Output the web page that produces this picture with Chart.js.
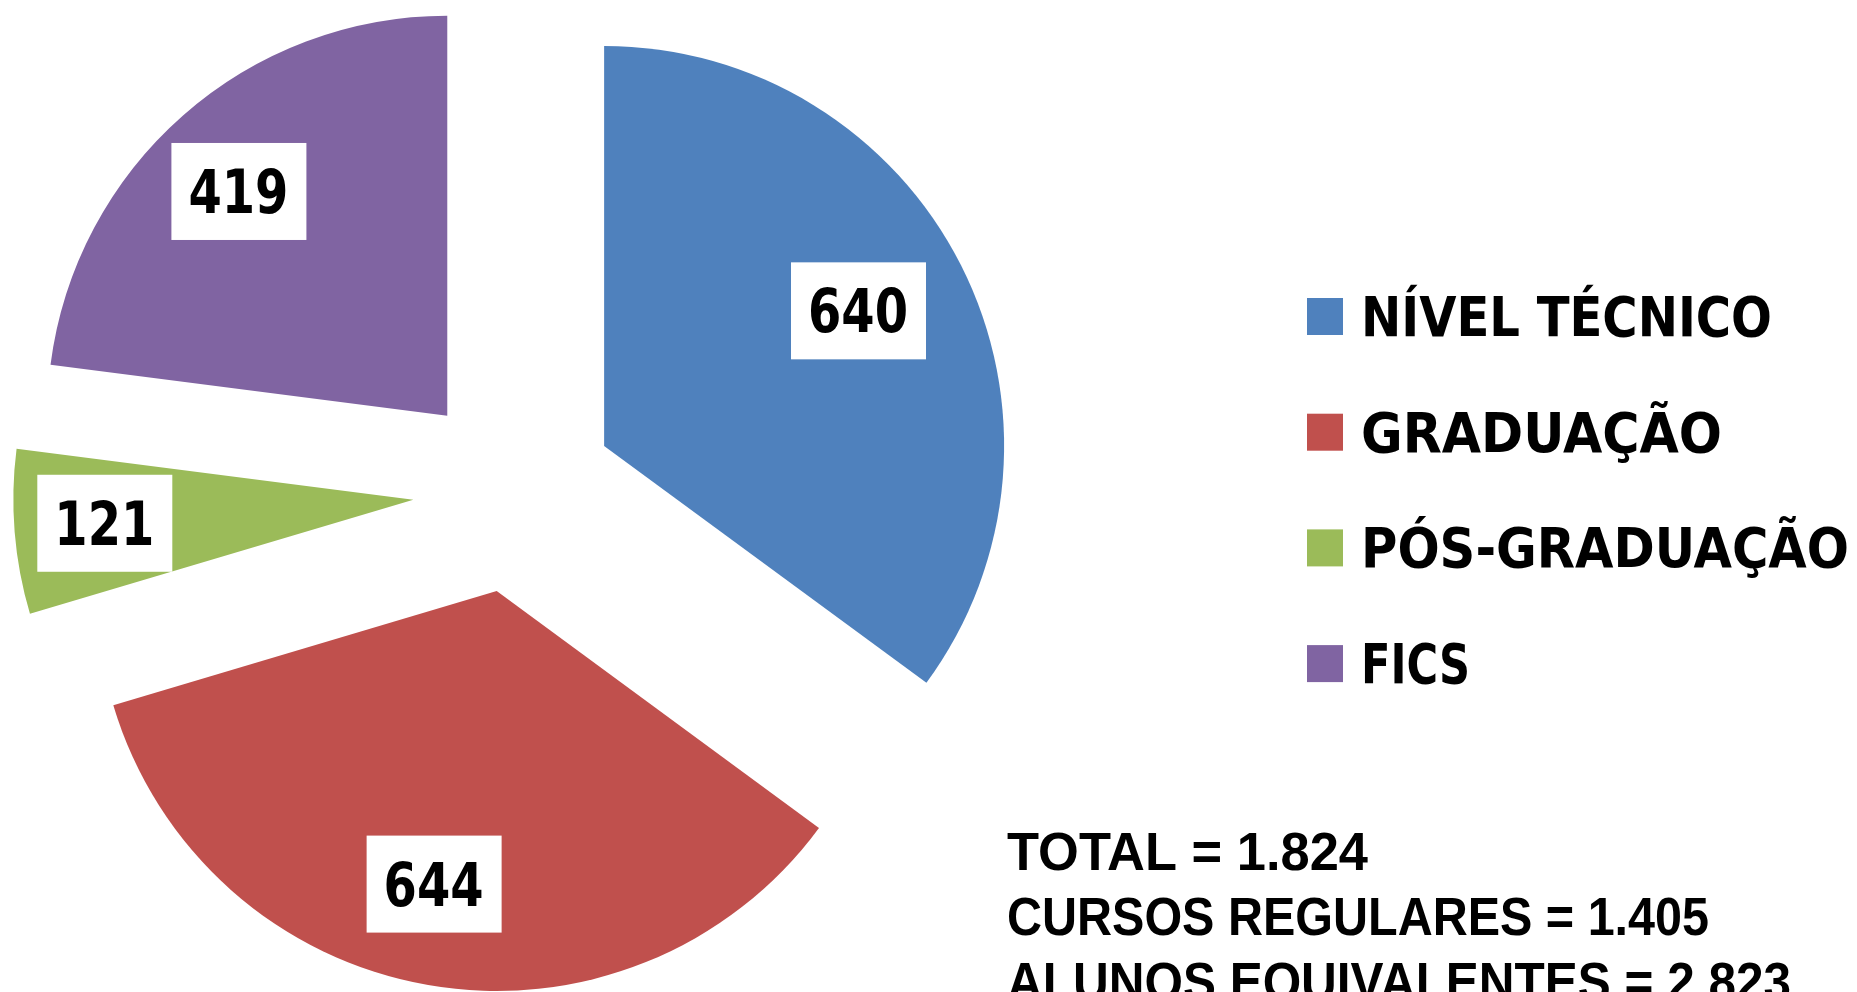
<!DOCTYPE html>
<html>
<head>
<meta charset="utf-8">
<script src="https://cdn.jsdelivr.net/npm/chart.js@4.4.0/dist/chart.umd.min.js"></script>
<style>
    html, body { margin: 0; padding: 0; background: #fff; overflow: hidden; }
    #wrap { width: 1857px; height: 992px; }
</style>
</head>
<body>
<div id="wrap"><canvas id="alunosChart" width="1857" height="992"></canvas></div>
<script>
// =========================
// Dados
// =========================
const categories = ['NÍVEL TÉCNICO', 'GRADUAÇÃO', 'PÓS-GRADUAÇÃO', 'FICS'];
const alunos = [640, 644, 121, 419];
const sliceColors = ['#4F81BD', '#C0504D', '#9BBB59', '#8064A2'];
const totalLines = ['TOTAL = 1.824', 'CURSOS REGULARES = 1.405', 'ALUNOS EQUIVALENTES = 2.823'];

const PIE_RADIUS = 400;
const EXPLODE = 404;   // chart.js v4 moves a slice by offset / 4

// draw text squeezed/stretched to a given width
function drawFitted(ctx, text, x, y, width, font, align) {
    ctx.save();
    ctx.font = font;
    const w = ctx.measureText(text).width;
    ctx.translate(x, y);
    ctx.scale(width / w, 1);
    ctx.textBaseline = 'alphabetic';
    ctx.textAlign = 'left';
    ctx.fillText(text, align === 'center' ? -w / 2 : 0, 0);
    ctx.restore();
}

// v4 grows and narrows exploded slices a bit; undo that so every slice
// keeps the plain radius and its full angle
const explodeFix = {
    id: 'explodeFix',
    afterDatasetUpdate(chart, args) {
        args.meta.data.forEach(arc => {
            const off = (arc.options.offset || 0) / 4;
            const fix = 1 - Math.sin(Math.min(Math.PI, arc.circumference));
            const grow = off * fix;
            const widen = grow / Math.PI / PIE_RADIUS / 2;
            arc.outerRadius = PIE_RADIUS - grow;
            arc.startAngle -= widen;
            arc.endAngle += widen;
        });
    }
};

// value boxes on each slice
const valueBoxes = {
    id: 'valueBoxes',
    afterDatasetsDraw(chart) {
        const ctx = chart.ctx;
        chart.getDatasetMeta(0).data.forEach((arc, i) => {
            const mid = (arc.startAngle + arc.endAngle) / 2;
            const dist = (arc.options.offset || 0) / 4 + PIE_RADIUS * 0.745;
            const x = arc.x + Math.cos(mid) * dist - 12;
            const y = arc.y + Math.sin(mid) * dist - 1;
            ctx.fillStyle = '#ffffff';
            ctx.fillRect(x - 67, y - 48, 135, 97);
            ctx.fillStyle = '#000000';
            drawFitted(ctx, String(alunos[i]), x, y + 22, 100, 'bold 60px "DejaVu Sans"', 'center');
        });
    }
};

// legend on the right + totals text
const legendAndTotals = {
    id: 'legendAndTotals',
    afterDraw(chart) {
        const ctx = chart.ctx;
        const legendWidths = [411, 361, 488, 109];
        categories.forEach((label, i) => {
            const base = 336 + i * 115.7;
            ctx.fillStyle = sliceColors[i];
            ctx.fillRect(1307, base - 38, 36, 37);
            ctx.fillStyle = '#000000';
            drawFitted(ctx, label, 1361, base, legendWidths[i], 'bold 55px "DejaVu Sans"', 'left');
        });
        const totalWidths = [361, 702, 784];
        totalLines.forEach((line, i) => {
            ctx.fillStyle = '#000000';
            drawFitted(ctx, line, 1007, 870 + i * 65, totalWidths[i],
                'bold 53px "Liberation Sans Narrow", "Liberation Sans"', 'left');
        });
    }
};

// =========================
// Pie Chart
// =========================
const alunosCtx = document.getElementById('alunosChart');

new Chart(alunosCtx, {
    type: 'pie',
    data: {
        labels: categories,
        datasets: [{
            data: alunos,
            backgroundColor: sliceColors,
            borderWidth: 0,
            offset: EXPLODE,
            hoverOffset: 0,
            clip: false
        }]
    },
    options: {
        responsive: false,
        animation: false,
        radius: PIE_RADIUS,
        layout: {
            padding: { left: 0, top: 0, right: 829, bottom: 9 }
        },
        plugins: {
            legend: { display: false },
            tooltip: { enabled: false }
        }
    },
    plugins: [explodeFix, valueBoxes, legendAndTotals]
});
</script>
</body>
</html>
